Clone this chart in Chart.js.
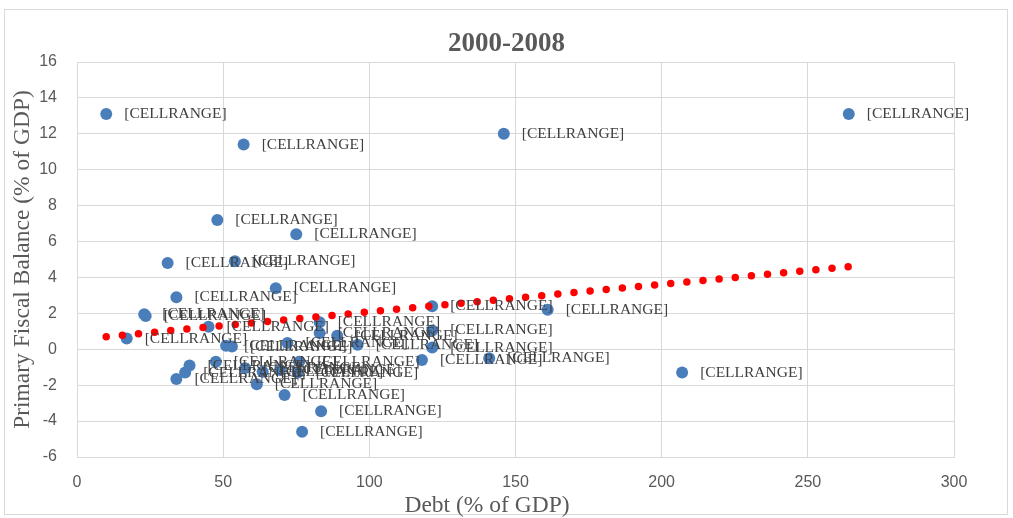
<!DOCTYPE html>
<html>
<head>
<meta charset="utf-8">
<script src="https://cdn.jsdelivr.net/npm/chart.js@4"></script>
<style>
  html, body { margin: 0; padding: 0; background: #fff; }
  #wrap { position: relative; width: 1013px; height: 518px; }
</style>
</head>
<body>
<div id="wrap"><canvas id="debtChart" width="1013" height="518"></canvas></div>
<script>
// values
const debt = [10, 57, 146, 264, 48, 75, 31, 54, 68, 34, 23, 23.5, 17, 121.5, 161,
  34, 37, 38.5, 47.5, 51, 53, 61.5, 71, 83.5, 77, 83, 83, 89, 96, 72, 45,
  121.5, 121.5, 118, 141, 207, 57.5, 63.5, 69.5, 75.5, 76];
const balance = [13.1, 11.4, 12.0, 13.1, 7.2, 6.4, 4.8, 4.9, 3.4, 2.9, 1.95, 1.85, 0.6, 2.4, 2.2,
  -1.65, -1.3, -0.9, -0.7, 0.2, 0.15, -1.95, -2.55, -3.45, -4.6, 1.5, 0.9, 0.75, 0.25, 0.35, 1.25,
  1.05, 0.1, -0.6, -0.5, -1.3, -1.05, -1.25, -1.15, -1.3, -0.7];
const pointLabel = '[CELLRANGE]';

// linear trendline end points
const trendDebt = [10, 264];
const trendBalance = [0.7, 4.6];

const xTicks = [0, 50, 100, 150, 200, 250, 300];
const yTicks = [-6, -4, -2, 0, 2, 4, 6, 8, 10, 12, 14, 16];

const grey = '#595959';
const gridGrey = '#d9d9d9';
const serif = '"Liberation Serif", "DejaVu Serif", serif';
const sans = '"Liberation Sans Narrow", "Liberation Sans", sans-serif';

const frame = {
    id: 'frame',
    beforeDraw(chart) {
        const c = chart.ctx;
        c.save();
        c.fillStyle = '#fff';
        c.fillRect(0, 0, chart.width, chart.height);
        c.strokeStyle = gridGrey;
        c.lineWidth = 1;
        c.strokeRect(4.5, 9.5, 1003, 505);
        c.restore();
    },
    afterDraw(chart) {
        // x axis title, Excel puts it a bit left of the plot centre
        const c = chart.ctx;
        c.save();
        c.font = '23.5px ' + serif;
        c.fillStyle = grey;
        c.textAlign = 'center';
        c.textBaseline = 'middle';
        c.fillText('Debt (% of GDP)', 487, 506);
        c.restore();
    }
};

const cellLabels = {
    id: 'cellLabels',
    afterDatasetsDraw(chart) {
        const meta = chart.getDatasetMeta(1);
        const c = chart.ctx;
        c.save();
        c.font = '15.5px ' + serif;
        c.fillStyle = '#404040';
        c.textBaseline = 'middle';
        c.textAlign = 'left';
        meta.data.forEach(pt => {
            c.fillText(pointLabel, pt.x + 18, pt.y);
        });
        c.restore();
    }
};

const ctx = document.getElementById('debtChart').getContext('2d');
new Chart(ctx, {
    type: 'scatter',
    data: {
        datasets: [{
            type: 'line',
            label: 'Linear trend',
            data: trendDebt.map((d, i) => ({x: d, y: trendBalance[i]})),
            borderColor: '#ff0000',
            borderWidth: 7.5,
            borderDash: [0, 16.2],
            borderCapStyle: 'round',
            pointRadius: 0,
            fill: false
        }, {
            label: 'Countries',
            data: debt.map((d, i) => ({x: d, y: balance[i]})),
            backgroundColor: '#4a7ebb',
            borderWidth: 0,
            pointRadius: 6
        }]
    },
    options: {
        responsive: false,
        animation: false,
        layout: {
            padding: 0
        },
        plugins: {
            legend: { display: false },
            tooltip: { enabled: false },
            title: {
                display: true,
                text: '2000-2008',
                color: grey,
                font: { family: serif, size: 27, weight: 'bold' },
                padding: { top: 28, bottom: 1.6 }
            }
        },
        scales: {
            x: {
                type: 'linear',
                min: 0,
                max: 300,
                afterBuildTicks: s => { s.ticks = xTicks.map(v => ({value: v})); },
                afterFit: s => { s.height = 61; },
                grid: { color: gridGrey, drawTicks: false },
                border: { color: gridGrey },
                ticks: {
                    color: grey,
                    padding: 16,
                    font: { family: sans, size: 16 }
                }
            },
            y: {
                min: -6,
                max: 16,
                afterBuildTicks: s => { s.ticks = yTicks.map(v => ({value: v})); },
                afterFit: s => { s.width = 77; },
                grid: { color: gridGrey, drawTicks: false },
                border: { color: gridGrey },
                ticks: {
                    color: grey,
                    padding: 20,
                    font: { family: sans, size: 16 }
                },
                title: {
                    display: true,
                    text: 'Primary Fiscal Balance (% of GDP)',
                    color: grey,
                    font: { family: serif, size: 23.5 },
                    padding: { top: 9, bottom: 0 }
                }
            },
            // empty right-hand strip so the title centres on the whole chart
            yRight: {
                position: 'right',
                min: -6,
                max: 16,
                afterFit: s => { s.width = 59; },
                grid: { drawOnChartArea: false, drawTicks: false },
                border: { display: false },
                ticks: { display: false }
            }
        }
    },
    plugins: [frame, cellLabels]
});
</script>
</body>
</html>
